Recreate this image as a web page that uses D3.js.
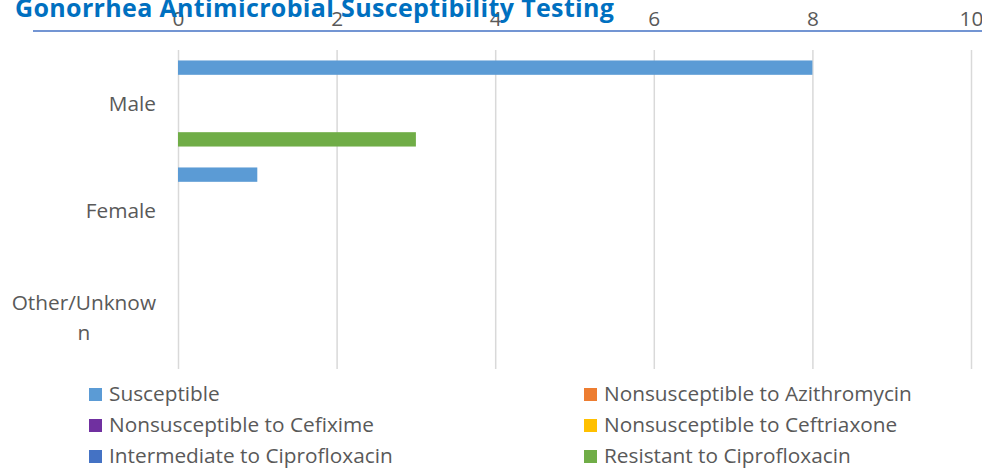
<!DOCTYPE html>
<html>
<head>
<meta charset="utf-8">
<script src="https://cdn.jsdelivr.net/npm/d3@7"></script>
<style>
    body { margin: 0; background: #fff; }
    svg { display: block; font-family: "Open Sans", sans-serif; }
</style>
</head>
<body>
<div id="chart"></div>
<script>
// Data
const categories = ['Male', 'Female', 'Other/Unknown'];
const seriesNames = [
    'Susceptible',
    'Nonsusceptible to Azithromycin',
    'Nonsusceptible to Cefixime',
    'Nonsusceptible to Ceftriaxone',
    'Intermediate to Ciprofloxacin',
    'Resistant to Ciprofloxacin'
];
const seriesColors = ['#5B9BD5', '#ED7D31', '#7030A0', '#FFC000', '#4472C4', '#70AD47'];
// values per series, in category order
const susceptible = [8, 1, 0];
const nsAzithro = [0, 0, 0];
const nsCefixime = [0, 0, 0];
const nsCeftriaxone = [0, 0, 0];
const intermCipro = [0, 0, 0];
const resistCipro = [3, 0, 0];
const seriesValues = [susceptible, nsAzithro, nsCefixime, nsCeftriaxone, intermCipro, resistCipro];
const xTicks = [0, 2, 4, 6, 8, 10];
const title = 'Gonorrhea Antimicrobial Susceptibility Testing';

const W = 982, H = 469;
const plot = { left: 178, right: 971, top: 50, bottom: 371 };
const textColor = '#595959';
const fontSize = '20.8px';

const svg = d3.select('#chart').append('svg')
    .attr('width', W)
    .attr('height', H);

const x = d3.scaleLinear().domain([0, 10]).range([plot.left, plot.right]);
const y = d3.scaleBand().domain(categories).range([plot.top, plot.bottom]);
const ySub = d3.scaleBand()
    .domain(d3.range(seriesNames.length))
    .range([0, y.bandwidth()])
    .paddingInner(0)
    .paddingOuter(0.73);

// Gridlines + tick labels (axis on top)
const xAxis = svg.append('g')
    .attr('transform', `translate(0,${plot.top})`)
    .call(d3.axisTop(x)
        .tickValues(xTicks)
        .tickSizeInner(-(plot.bottom - plot.top - 2))
        .tickSizeOuter(0)
        .tickPadding(24));
xAxis.select('.domain').remove();
xAxis.selectAll('line').attr('stroke', '#d9d9d9').attr('stroke-width', 1.5);
xAxis.selectAll('text')
    .attr('fill', textColor)
    .style('font-size', fontSize)
    .style('font-family', '"Open Sans", sans-serif');

// Title + rule underneath
svg.append('line')
    .attr('x1', 33).attr('x2', W)
    .attr('y1', 31).attr('y2', 31)
    .attr('stroke', '#4472C4')
    .attr('stroke-width', 1.5);

svg.append('text')
    .attr('x', 15)
    .attr('y', 17)
    .attr('fill', '#0070C0')
    .style('font-size', '25px')
    .style('letter-spacing', '0.35px')
    .style('font-weight', 'bold')
    .text(title);

// Bars
const flat = [];
seriesValues.forEach((vals, si) => {
    vals.forEach((v, ci) => flat.push({ si, cat: categories[ci], value: v }));
});

svg.append('g')
    .selectAll('rect')
    .data(flat.filter(d => d.value > 0))
    .enter()
    .append('rect')
    .attr('x', x(0))
    .attr('y', d => y(d.cat) + ySub(d.si))
    .attr('width', d => x(d.value) - x(0))
    .attr('height', ySub.bandwidth())
    .attr('fill', d => seriesColors[d.si]);

// Category labels (wrap by character like Excel does)
const catLabels = svg.append('g')
    .selectAll('text')
    .data(categories)
    .enter()
    .append('text')
    .attr('fill', textColor)
    .style('font-size', fontSize);

catLabels.each(function(d) {
    const t = d3.select(this);
    const maxW = 150;
    const lines = [];
    let cur = '';
    // measure with a temp tspan
    const probe = t.append('tspan');
    for (const ch of d) {
        probe.text(cur + ch);
        if (probe.node().getComputedTextLength() > maxW && cur) {
            lines.push(cur);
            cur = ch;
        } else {
            cur += ch;
        }
    }
    lines.push(cur);
    probe.remove();

    const cy = y(d) + y.bandwidth() / 2 + 7.5;
    const lh = 30;
    const top = cy - (lines.length - 1) * lh / 2;
    const rightX = plot.left - 22;

    // widest line decides block, lines centered within it
    const widths = lines.map(l => {
        const p = t.append('tspan').text(l);
        const w = p.node().getComputedTextLength();
        p.remove();
        return w;
    });
    const blockW = d3.max(widths);
    const multi = lines.length > 1;

    lines.forEach((l, i) => {
        t.append('tspan')
            .attr('x', multi ? rightX - blockW / 2 : rightX)
            .attr('y', top + i * lh)
            .attr('text-anchor', multi ? 'middle' : 'end')
            .text(l);
    });
});

// Legend
const legendCols = [89, 584];
const legendRows = [388, 419, 450];
const legend = svg.append('g')
    .selectAll('g')
    .data(seriesNames)
    .enter()
    .append('g')
    .attr('transform', (d, i) =>
        `translate(${legendCols[i % 2]},${legendRows[Math.floor(i / 2)]})`);

legend.append('rect')
    .attr('width', 13)
    .attr('height', 13)
    .attr('fill', (d, i) => seriesColors[i]);

legend.append('text')
    .attr('x', 20)
    .attr('y', 13)
    .attr('fill', textColor)
    .style('font-size', fontSize)
    .text(d => d);
</script>
</body>
</html>
